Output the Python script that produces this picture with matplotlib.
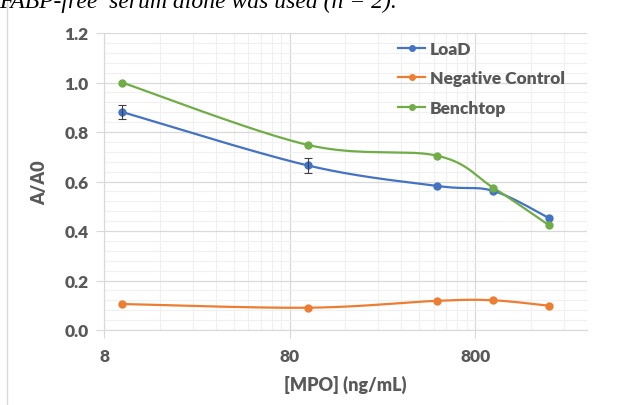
import numpy as np
import matplotlib
matplotlib.use("Agg")
import matplotlib.pyplot as plt
from matplotlib.patches import Rectangle
from matplotlib.ticker import FixedLocator, NullFormatter, MultipleLocator

# ---- data ----
conc = [10, 100, 500, 1000, 2000]
load = [0.881, 0.665, 0.582, 0.562, 0.452]
load_err = [0.03, 0.03, 0.0, 0.0, 0.0]
neg = [0.105, 0.090, 0.118, 0.120, 0.098]
bench = [1.000, 0.748, 0.704, 0.575, 0.423]
series_names = ["LoaD", "Negative Control", "Benchtop"]
xticks = [8, 80, 800]
yticks = [0.0, 0.2, 0.4, 0.6, 0.8, 1.0, 1.2]

colors = ["#4472C4", "#ED7D31", "#70AD47"]
gray = "#595959"
FONT = "Lato"
FW = "heavy"
FS = 12.5

def smooth(x, y, n=40):
    lx = np.log10(np.asarray(x, float))
    y = np.asarray(y, float)
    P = np.column_stack([lx, y])
    out = []
    for i in range(len(P) - 1):
        p0 = P[i - 1] if i > 0 else P[i]
        p1 = P[i]
        p2 = P[i + 1]
        p3 = P[i + 2] if i + 2 < len(P) else P[i + 1]
        c1 = p1 + (p2 - p0) / 6.0
        c2 = p2 - (p3 - p1) / 6.0
        t = np.linspace(0, 1, n)[:, None]
        seg = ((1 - t) ** 3) * p1 + 3 * ((1 - t) ** 2) * t * c1 + 3 * (1 - t) * t ** 2 * c2 + t ** 3 * p2
        out.append(seg if i == 0 else seg[1:])
    S = np.vstack(out)
    return 10 ** S[:, 0], S[:, 1]

W, H = 622, 406
fig = plt.figure(figsize=(W / 100, H / 100), dpi=100)
fig.patch.set_facecolor("white")

# chart outer border
fig.patches.append(Rectangle((7 / W, -0.2), 1.2, 1.2 + (1 - 13 / H), transform=fig.transFigure,
                             fill=False, edgecolor="#D9D9D9", linewidth=1.0))

# cropped caption (cut at the top edge as in the source image)
fig.text(-0.002, 1 - 8 / H, "FABP-free  serum alone was used (n = 2).", fontsize=17,
         family="Liberation Serif", style="italic", va="baseline", ha="left", color="black")

ax = fig.add_axes([104 / W, 1 - 331 / H, (587 - 104) / W, (331 - 34) / H])
ax.set_xscale("log")
ax.set_xlim(8, 3200)
ax.set_ylim(0, 1.2)

ax.xaxis.set_major_locator(FixedLocator(xticks))
ax.set_xticklabels([str(v) for v in xticks])
minors = [m * d for d in (8, 80, 800) for m in range(2, 10)] + [3200]
ax.xaxis.set_minor_locator(FixedLocator(minors))
ax.xaxis.set_minor_formatter(NullFormatter())
ax.yaxis.set_major_locator(FixedLocator(yticks))
ax.set_yticklabels([f"{v:.1f}" for v in yticks])
ax.yaxis.set_minor_locator(MultipleLocator(0.04))

ax.grid(which="major", color="#D9D9D9", linewidth=0.9)
ax.grid(which="minor", color="#F0F0F0", linewidth=0.8)
ax.set_axisbelow(True)

for s in ["top", "right"]:
    ax.spines[s].set_visible(False)
ax.spines["left"].set_color("#D9D9D9")
ax.spines["bottom"].set_color("#D9D9D9")
ax.tick_params(axis="x", which="major", length=6, color="#D9D9D9", labelcolor=gray,
               labelsize=FS, pad=7)
ax.tick_params(axis="y", which="major", length=6, color="#D9D9D9", labelcolor=gray,
               labelsize=FS, pad=5)
ax.tick_params(axis="both", which="minor", length=0)
for lab in ax.get_xticklabels() + ax.get_yticklabels():
    lab.set_family(FONT)
    lab.set_fontweight(FW)

all_y = [load, neg, bench]
handles = []
for i, (ys, c, name) in enumerate(zip(all_y, colors, series_names)):
    sx, sy = smooth(conc, ys)
    ax.plot(sx, sy, color=c, linewidth=1.6, zorder=3)
    ax.plot(conc, ys, "o", color=c, markersize=5, zorder=4)
    handles.append(ax.plot([], [], "-o", color=c, markersize=4, linewidth=1.6, label=name)[0])

ex = [x for x, e in zip(conc, load_err) if e > 0]
ey = [y for y, e in zip(load, load_err) if e > 0]
ee = [e for e in load_err if e > 0]
ax.errorbar(ex, ey, yerr=ee, fmt="none", ecolor="#404040", elinewidth=0.8,
            capsize=3, capthick=0.8, zorder=5)

leg = ax.legend(handles=handles, loc="upper left", bbox_to_anchor=((382 - 104) / (587 - 104), 1.026),
                frameon=False, handlelength=1.6, handletextpad=0.25, labelspacing=0.78,
                prop={"family": FONT, "weight": FW, "size": FS})
for t in leg.get_texts():
    t.set_color(gray)

ax.set_xlabel("[MPO] (ng/mL)", family=FONT, fontweight=FW, fontsize=FS + 0.5, color=gray, labelpad=8)
ax.set_ylabel("A/A0", family=FONT, fontweight=FW, fontsize=FS + 0.5, color=gray, labelpad=12)

fig.savefig("out.png", dpi=100)
